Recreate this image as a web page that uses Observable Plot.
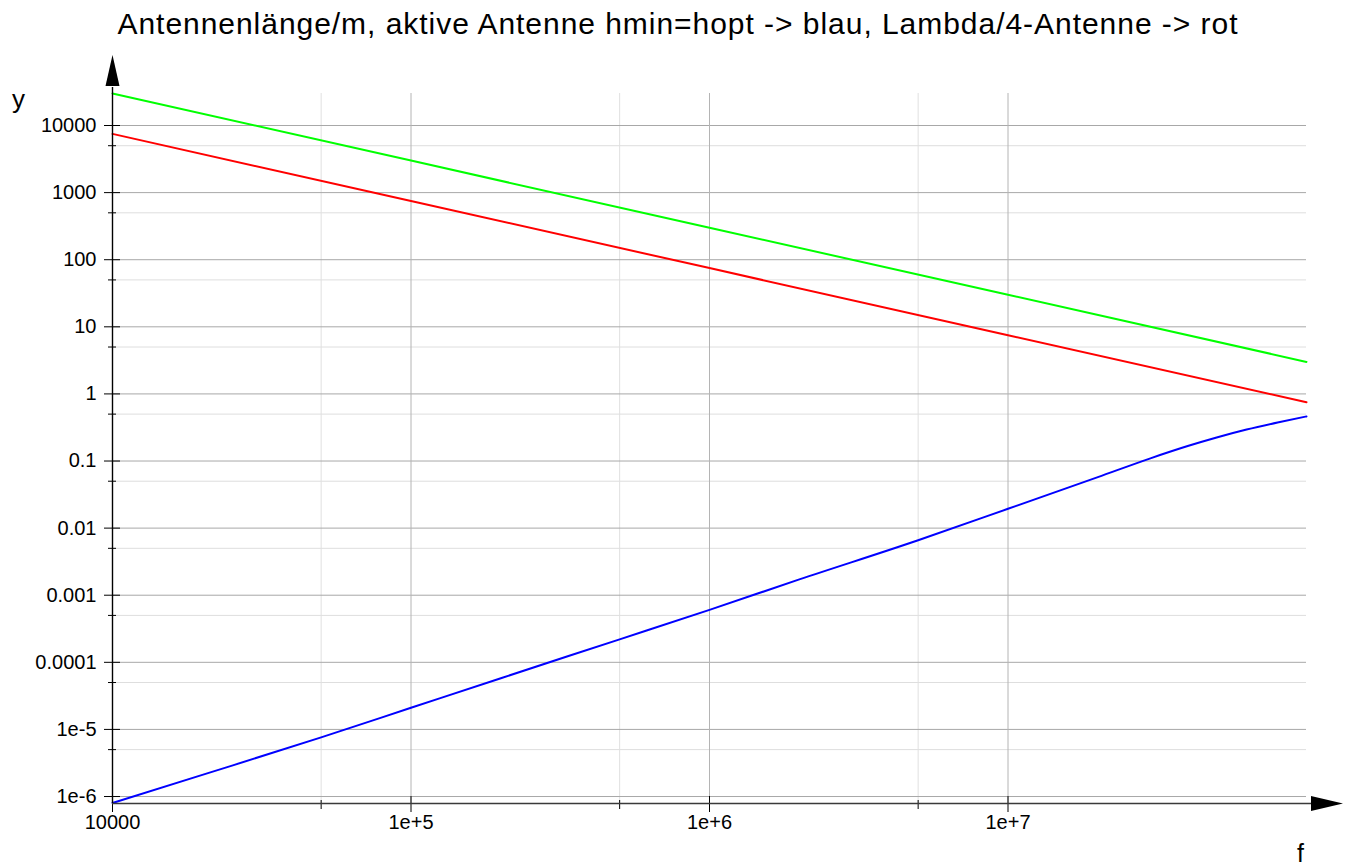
<!DOCTYPE html>
<html>
<head>
<meta charset="utf-8">
<script src="https://cdn.jsdelivr.net/npm/d3@7"></script>
<script src="https://cdn.jsdelivr.net/npm/@observablehq/plot@0.6"></script>
<style>
  body { margin: 0; background: #fff; }
  svg { display: block; }
</style>
</head>
<body>
<div id="chart"></div>
<script>
// ---- text ----
const titleText = "Antennenlänge/m, aktive Antenne hmin=hopt -> blau, Lambda/4-Antenne -> rot";
const yAxisName = "y";
const xAxisName = "f";

// ---- series ----
const freqLambda = [1e4, 1e5, 1e6, 1e7, 1e8];
const lambdaGreen = [30000, 3000, 300, 30, 3];
const lambdaQuarterRed = [7500, 750, 75, 7.5, 0.75];

const freqBlue = [1e4, 2e4, 5e4, 1e5, 2e5, 5e5, 1e6, 2e6, 5e6, 1e7, 2e7, 3e7, 4e7, 5e7, 6.3e7, 8e7, 1e8];
const hminBlue = [8e-7, 2.1e-6, 7.6e-6, 2.1e-5, 5.8e-5, 2.2e-4, 6.05e-4, 1.72e-3, 6.6e-3, 0.0194, 0.0575, 0.1096, 0.167, 0.224, 0.294, 0.375, 0.462];

// ---- ticks ----
const xMajor = [1e4, 1e5, 1e6, 1e7];
const xMajorLabels = ["10000", "1e+5", "1e+6", "1e+7"];
const xMinor = [5e4, 5e5, 5e6];
const xGridMajor = [1e5, 1e6, 1e7];

const yMajor = [1e-6, 1e-5, 1e-4, 1e-3, 1e-2, 1e-1, 1, 10, 100, 1000, 10000];
const yMajorLabels = ["1e-6", "1e-5", "0.0001", "0.001", "0.01", "0.1", "1", "10", "100", "1000", "10000"];
const yMinor = [5e-6, 5e-5, 5e-4, 5e-3, 5e-2, 0.5, 5, 50, 500, 5000];

const xDomain = [1e4, 1e8];
const yDomain = [7.87e-7, 3e4];

// ---- tables ----
const greenData = freqLambda.map((f, i) => ({f, v: lambdaGreen[i]}));
const redData = freqLambda.map((f, i) => ({f, v: lambdaQuarterRed[i]}));
const blueData = freqBlue.map((f, i) => ({f, v: hminBlue[i]}));

const NS = "http://www.w3.org/2000/svg";
function el(name, attrs) {
  const e = document.createElementNS(NS, name);
  for (const k in attrs) e.setAttribute(k, attrs[k]);
  return e;
}

// axis lines with arrow heads (Maple style)
function axesArrows(index, scales, values, dims) {
  const g = el("g", {});
  const top = dims.marginTop;
  const right = dims.width - dims.marginRight;
  const xa = scales.x(xDomain[0]);
  const yb = scales.y(yDomain[0]);
  // x axis
  g.appendChild(el("line", {x1: xa, y1: yb + 0.5, x2: right + 7, y2: yb + 0.5, stroke: "#3a3a3a", "stroke-width": 1.6}));
  g.appendChild(el("path", {d: `M${right + 5},${yb - 7} L${right + 37},${yb + 0.5} L${right + 5},${yb + 8} Z`, fill: "#000"}));
  // y axis
  g.appendChild(el("line", {x1: xa + 0.5, y1: yb, x2: xa + 0.5, y2: top - 6, stroke: "#000", "stroke-width": 1.4}));
  g.appendChild(el("path", {d: `M${xa - 6.5},${top - 7} L${xa + 0.5},${top - 38} L${xa + 7.5},${top - 7} Z`, fill: "#000"}));
  return g;
}

const chart = Plot.plot({
  width: 1351,
  height: 868,
  marginTop: 93,
  marginBottom: 65,
  marginLeft: 112,
  marginRight: 45,
  style: {fontFamily: "'Liberation Sans', Arial, Helvetica, sans-serif", background: "#fff", color: "#000", overflow: "visible"},
  x: {type: "log", domain: xDomain},
  y: {type: "log", domain: yDomain},
  marks: [
    // grid
    Plot.ruleY(yMinor, {stroke: "#dedede", strokeWidth: 1}),
    Plot.ruleX(xMinor, {stroke: "#e0e0e0", strokeWidth: 1}),
    Plot.ruleY(yMajor, {stroke: "#a8a8a8", strokeWidth: 1}),
    Plot.ruleX(xGridMajor, {stroke: "#b4b4b4", strokeWidth: 1}),
    // curves
    Plot.line(greenData, {x: "f", y: "v", stroke: "#00ff00", strokeWidth: 2}),
    Plot.line(redData, {x: "f", y: "v", stroke: "#ff0000", strokeWidth: 2}),
    Plot.line(blueData, {x: "f", y: "v", stroke: "#0000ff", strokeWidth: 2, curve: "monotone-x"}),
    // axes
    Plot.axisY({ticks: yMinor, tickSize: 8, dx: 4, tickFormat: () => "", label: null, stroke: "#000"}),
    Plot.axisY({ticks: yMajor, tickSize: 16, dx: 8, tickPadding: 8, tickFormat: d => yMajorLabels[yMajor.indexOf(d)], label: null, fontSize: 20, stroke: "#000", fill: "#000"}),
    Plot.axisX({ticks: xMinor, tickSize: 9, dy: -3, tickFormat: () => "", label: null, stroke: "#000"}),
    Plot.axisX({ticks: xMajor, tickSize: 16, dy: -7, tickPadding: 2, tickFormat: d => xMajorLabels[xMajor.indexOf(d)], label: null, fontSize: 20, stroke: "#000", fill: "#000"}),
    axesArrows,
    // labels
    Plot.text([titleText], {text: d => d, frameAnchor: "top-left", textAnchor: "start", lineAnchor: "bottom", dx: 5, dy: -59.7, fontSize: 30, fill: "#000"}),
    Plot.text([yAxisName], {text: d => d, frameAnchor: "top-left", textAnchor: "middle", lineAnchor: "bottom", dx: -94, dy: 14, fontSize: 26, fill: "#000"}),
    Plot.text([xAxisName], {text: d => d, frameAnchor: "bottom-right", textAnchor: "middle", lineAnchor: "bottom", dx: -6, dy: 58, fontSize: 25, fill: "#000"})
  ]
});

// stretch the title to the measured width of the reference
for (const t of chart.querySelectorAll("text")) {
  if (t.textContent === titleText) {
    t.setAttribute("textLength", 1120);
    t.setAttribute("lengthAdjust", "spacing");
  }
}

document.getElementById("chart").appendChild(chart);
</script>
</body>
</html>
